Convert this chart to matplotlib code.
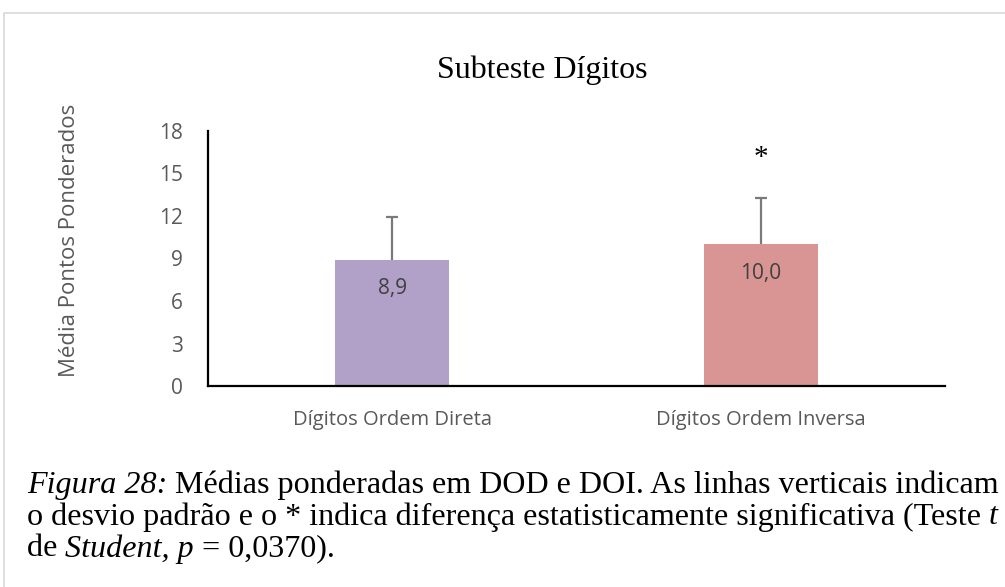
import matplotlib
matplotlib.use('Agg')
from matplotlib import pyplot as plt
from matplotlib import patches

categories = ['Dígitos Ordem Direta', 'Dígitos Ordem Inversa']
means = [8.9, 10.0]
sds = [3.0, 3.3]
value_labels = ['8,9', '10,0']
bar_colors = ['#b1a0c7', '#d99594']
yticks = [0, 3, 6, 9, 12, 15, 18]

caption_lines = [
    [('Figura 28:', 'italic'), (' Médias ponderadas em DOD e DOI. As linhas verticais indicam', 'normal')],
    [('o desvio padrão e o * indica diferença estatisticamente significativa (Teste ', 'normal'), ('t', 'italic')],
    [('de ', 'normal'), ('Student, p', 'italic'), (' = 0,0370).', 'normal')],
]

sans = ['Open Sans', 'DejaVu Sans']
serif = ['Liberation Serif', 'DejaVu Serif']
gray = '#595959'

W, H = 1005, 587
fig = plt.figure(figsize=(W/100, H/100), dpi=100)
ax = fig.add_axes([208/W, 1-386/H, 737/W, (386-131)/H])

x = list(range(len(categories)))
ax.bar(x, means, width=0.31, color=bar_colors, zorder=2)
eb = ax.errorbar(x, means, yerr=[[0, 0], sds], fmt='none', ecolor='#7a7a7a',
                 elinewidth=1.6, capsize=4.5, capthick=1.6, zorder=3)
eb[1][0].set_visible(False)  # no cap at the bar top

for xi, m, lab in zip(x, means, value_labels):
    ax.text(xi, m - 1.3, lab, ha='center', va='top', fontsize=15,
            color='#404040', family=sans)

# significance mark
ax.text(1, means[1] + sds[1] + 2.8, '*', ha='center', va='center',
        fontsize=21, family=serif, color='black')

ax.set_xlim(-0.5, 1.5)
ax.set_ylim(0, 18)
ax.set_yticks(yticks)
ax.set_xticks(x)
ax.set_xticklabels(categories, family=sans, fontsize=14.5, color=gray)
ax.set_yticklabels([str(t) for t in yticks], family=sans, fontsize=15, color=gray)
ax.tick_params(length=0)
ax.tick_params(axis='x', pad=17)
ax.tick_params(axis='y', pad=18)
for s in ['top', 'right']:
    ax.spines[s].set_visible(False)
for s in ['left', 'bottom']:
    ax.spines[s].set_linewidth(1.6)
    ax.spines[s].set_color('black')

ax.set_ylabel('Média Pontos Ponderados', family=sans, fontsize=16, color=gray)
ax.yaxis.set_label_coords(-0.174, 0.57)

fig.text(542/W, 1-70/H, 'Subteste Dígitos', ha='center', va='center',
         fontsize=23, family=serif)

# light frame around the chart area
fig.add_artist(patches.Rectangle((4/W, -0.1), 1.1, 1-13/H+0.1,
                                 transform=fig.transFigure, fill=False,
                                 edgecolor='#d9d9d9', linewidth=1.2))

# caption, built piece by piece so the italic parts sit inline
renderer = fig.canvas.get_renderer()
for y, pieces in zip([485, 517, 549], caption_lines):
    xpos = 27
    for txt, style in pieces:
        t = fig.text(xpos/W, 1-y/H, txt, fontsize=23.1, family=serif,
                     style=style, va='center', ha='left')
        bb = t.get_window_extent(renderer)
        xpos = bb.x1

fig.savefig('out.png', dpi=100)
